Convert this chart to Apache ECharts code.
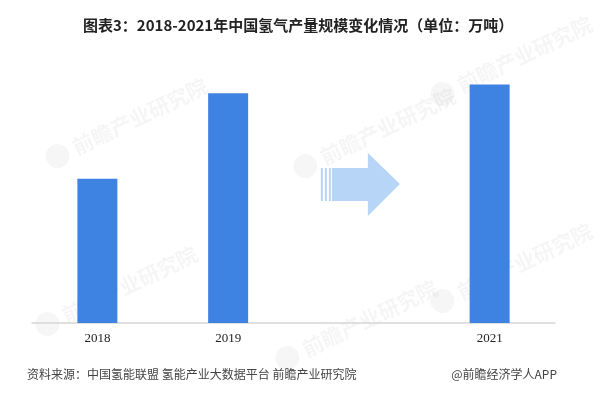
<!DOCTYPE html>
<html>
<head>
<meta charset="utf-8">
<script src="https://cdn.jsdelivr.net/npm/echarts@6/dist/echarts.min.js"></script>
<style>
  html, body { margin: 0; padding: 0; background: #fff; }
  #chart { width: 600px; height: 393px; }
</style>
</head>
<body>
<div id="chart"></div>
<script>
// Hydrogen output in China, 10k tonnes (2020 left empty, bridged by an arrow)
const categories = ['2018', '2019', '2020', '2021'];
const tickLabels = ['2018', '2019', '', '2021'];
const output = [2100, 3342, null, 3468];

const titleText = '图表3：2018-2021年中国氢气产量规模变化情况（单位：万吨）';
const sourceText = '资料来源：中国氢能联盟 氢能产业大数据平台 前瞻产业研究院';
const brandText = '@前瞻经济学人APP';
const watermarkText = '前瞻产业研究院';

const chart = echarts.init(document.getElementById('chart'), null, { renderer: 'canvas' });

// faint diagonal brand marks scattered over the plot
const marks = [[70, 150], [318, 160], [455, 88], [60, 318], [455, 295], [300, 352]];
function watermark(x, y) {
  return {
    type: 'group', x: x, y: y, rotation: Math.PI / 7, silent: true, z: 0,
    children: [
      { type: 'circle', shape: { cx: -14, cy: 0, r: 12 }, style: { fill: 'rgba(0,0,0,0.035)' } },
      { type: 'text', x: 4, y: 0, style: { text: watermarkText, fill: 'rgba(0,0,0,0.04)',
        font: 'bold 21px "Noto Sans CJK SC"', verticalAlign: 'middle' } }
    ]
  };
}

chart.setOption({
  animation: false,
  backgroundColor: '#fff',
  title: {
    text: titleText,
    left: 78, top: 13,
    textStyle: { fontFamily: '"Noto Sans CJK SC"', fontWeight: 'bold', fontSize: 15, color: '#222' }
  },
  grid: { left: 32, right: 45, top: 48, bottom: 70, containLabel: false },
  xAxis: {
    type: 'category',
    data: categories,
    axisLine: { lineStyle: { color: '#d6d6d6', width: 1.5 } },
    axisTick: { show: false },
    axisLabel: {
      margin: 9,
      fontFamily: '"Liberation Serif"', fontSize: 13, color: '#222',
      formatter: (v, i) => tickLabels[i]
    }
  },
  yAxis: { type: 'value', min: 0, max: 4000, show: false, splitLine: { show: false } },
  series: [{
    type: 'bar',
    data: output,
    barWidth: 40,
    itemStyle: { color: '#3f83e2' },
    z: 3
  }],
  graphic: []
});

// arrow standing in for the missing 2020 column
const cx = chart.convertToPixel({ xAxisIndex: 0 }, '2020');
const cy = 184;
const arrowColor = '#b7d5f6';
const arrow = {
  type: 'group', silent: true, z: 2,
  children: [
    { type: 'rect', shape: { x: cx - 38, y: cy - 16, width: 2, height: 33 }, style: { fill: arrowColor } },
    { type: 'rect', shape: { x: cx - 34, y: cy - 16, width: 2, height: 33 }, style: { fill: arrowColor } },
    { type: 'rect', shape: { x: cx - 30, y: cy - 16, width: 2, height: 33 }, style: { fill: arrowColor } },
    { type: 'rect', shape: { x: cx - 27, y: cy - 16, width: 37, height: 33 }, style: { fill: arrowColor } },
    { type: 'polygon', shape: { points: [[cx + 9, cy - 31], [cx + 41, cy], [cx + 9, cy + 32]] }, style: { fill: arrowColor } }
  ]
};

chart.setOption({
  graphic: [
    ...marks.map(p => watermark(p[0], p[1])),
    arrow,
    { type: 'text', left: 27, top: 368, silent: true,
      style: { text: sourceText, fill: '#444', font: '12px "Noto Sans CJK SC"' } },
    { type: 'text', right: 43, top: 368, silent: true,
      style: { text: brandText, fill: '#444', font: '12px "Noto Sans CJK SC"' } }
  ]
});
</script>
</body>
</html>
